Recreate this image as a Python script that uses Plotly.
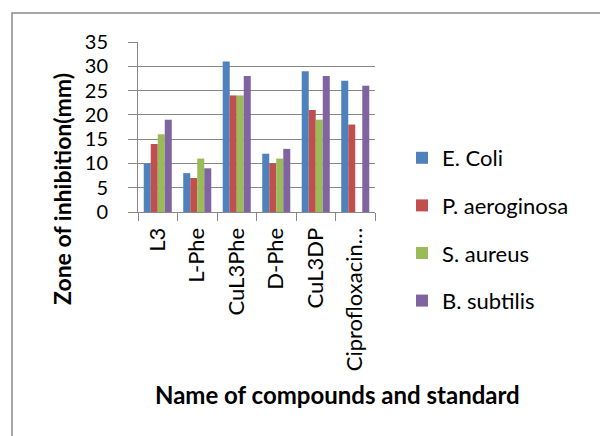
import plotly.graph_objects as go

# Antibacterial screening: zone of inhibition (mm) per compound and organism
compounds = ["L3", "L-Phe", "CuL3Phe", "D-Phe", "CuL3DP", "Ciprofloxacin…"]
e_coli = [10, 8, 31, 12, 29, 27]
p_aeroginosa = [14, 7, 24, 10, 21, 18]
s_aureus = [16, 11, 24, 11, 19, 0]
b_subtilis = [19, 9, 28, 13, 28, 26]
y_ticks = [0, 5, 10, 15, 20, 25, 30, 35]

series = [
    ("E. Coli", e_coli, "#4F81BD"),
    ("P. aeroginosa", p_aeroginosa, "#C0504D"),
    ("S. aureus", s_aureus, "#9BBB59"),
    ("B. subtilis", b_subtilis, "#8064A2"),
]

W, H = 600, 436
L, R, T, B = 138, 375, 42, 212  # plot area in pixels
FONT = "Lato, 'Open Sans', sans-serif"
GRID = "#878787"


def px_x(p):
    return (p - L) / (R - L)


def px_y(p):
    return (B - p) / (B - T)


fig = go.Figure()
for i, (name, vals, color) in enumerate(series):
    fig.add_trace(go.Bar(
        x=compounds, y=vals, name=name,
        marker=dict(color=color, line=dict(width=0)),
        legendgroup=str(i),
    ))

fig.update_layout(
    width=W, height=H,
    margin=dict(l=L, r=W - R, t=T, b=H - B, pad=0),
    paper_bgcolor="white", plot_bgcolor="white",
    barmode="group", bargap=0.29, bargroupgap=0,
    font=dict(family=FONT, size=22, color="black"),
    showlegend=True,
    legend=dict(
        x=px_x(402), y=px_y(137), xanchor="left", yanchor="top",
        font=dict(size=22, family=FONT, color="black"),
        tracegroupgap=16, itemwidth=30, maxheight=400,
        bgcolor="rgba(0,0,0,0)",
    ),
    xaxis=dict(
        range=[-0.5, 5.5], tickangle=-90, tickson="boundaries",
        ticks="outside", ticklen=8, tickcolor=GRID,
        showline=True, linecolor=GRID, linewidth=1,
        showgrid=False, tickfont=dict(size=22, family=FONT),
        ticklabelstandoff=6,
    ),
    yaxis=dict(
        range=[0, 35], tickvals=y_ticks, ticks="outside", ticklen=9,
        tickcolor=GRID, showline=True, linecolor=GRID, linewidth=1,
        showgrid=True, gridcolor=GRID, gridwidth=1,
        tickfont=dict(size=20, family=FONT), zeroline=False,
        ticklabelstandoff=16,
    ),
    shapes=[dict(
        type="rect", xref="paper", yref="paper",
        x0=px_x(12), y0=px_y(470), x1=px_x(640), y1=px_y(13),
        line=dict(color="#8a8a8a", width=1.5), fillcolor="rgba(0,0,0,0)",
        layer="below",
    )],
    annotations=[
        dict(text="<b>Zone of inhibition(mm)</b>", textangle=-90,
             xref="paper", yref="paper", x=px_x(62), y=px_y(189),
             xanchor="center", yanchor="middle", showarrow=False,
             font=dict(size=23, family=FONT)),
        dict(text="<b>Name of compounds and standard</b>",
             xref="paper", yref="paper", x=px_x(337), y=px_y(395),
             xanchor="center", yanchor="middle", showarrow=False,
             font=dict(size=24, family=FONT)),
    ],
)

fig.write_html("out.html")
